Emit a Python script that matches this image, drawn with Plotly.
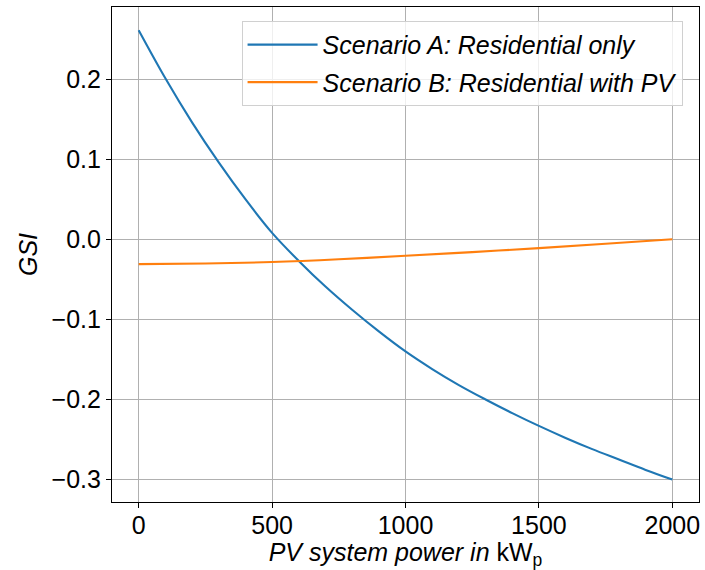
import plotly.graph_objects as go

# Data
x_a = [0, 100, 200, 300, 400, 500, 600, 700, 800, 900, 1000,
       1100, 1200, 1300, 1400, 1500, 1600, 1700, 1800, 1900, 2000]
gsi_a = [0.261, 0.201, 0.146, 0.096, 0.050, 0.008, -0.027, -0.059, -0.088, -0.115, -0.140,
         -0.162, -0.182, -0.200, -0.217, -0.233, -0.248, -0.262, -0.275, -0.288, -0.300]

x_b = [0, 250, 500, 750, 1000, 1250, 1500, 1750, 2000]
gsi_b = [-0.031, -0.0302, -0.0284, -0.025, -0.0205, -0.016, -0.011, -0.0055, 0.0]

name_a = "Scenario A: Residential only"
name_b = "Scenario B: Residential with PV"

x_ticks = [0, 500, 1000, 1500, 2000]
y_ticks = [-0.3, -0.2, -0.1, 0.0, 0.1, 0.2]
y_ticklabels = ["\u22120.3", "\u22120.2", "\u22120.1", "0.0", "0.1", "0.2"]

FONT = "Liberation Sans, Arial, sans-serif"
FS = 25

fig = go.Figure()
fig.add_trace(go.Scatter(x=x_a, y=gsi_a, mode="lines", name="<i>" + name_a + "</i>",
                         line=dict(color="#1f77b4", width=2.1, shape="spline", smoothing=1.0),
                         legendgroup="a"))
fig.add_trace(go.Scatter(x=x_b, y=gsi_b, mode="lines", name="<i>" + name_b + "</i>",
                         line=dict(color="#ff7f0e", width=2.1, shape="spline", smoothing=1.0),
                         legendgroup="b"))

fig.update_layout(
    width=705, height=570,
    margin=dict(l=112, r=6, t=7, b=68),
    paper_bgcolor="white", plot_bgcolor="white",
    font=dict(family=FONT, size=FS, color="black"),
    showlegend=True,
    legend=dict(
        x=0.972, y=0.972, xanchor="right", yanchor="top",
        bgcolor="rgba(255,255,255,0.8)", bordercolor="#d0d0d0", borderwidth=1,
        font=dict(family=FONT, size=FS, color="black"),
        tracegroupgap=2, traceorder="grouped", itemwidth=70,
    ),
)
fig.update_xaxes(
    range=[-100, 2100], tickvals=x_ticks, ticktext=[str(v) for v in x_ticks],
    showgrid=True, gridcolor="#b0b0b0", gridwidth=1,
    showline=True, linecolor="black", linewidth=1.1, mirror=True,
    ticks="outside", ticklen=5, tickwidth=1.1, tickcolor="black",
    ticklabelstandoff=-4,
    zeroline=False, automargin=False,
    title=dict(text="<i>PV system power in</i> kW<sub>p</sub>", font=dict(size=FS)),
)
fig.update_yaxes(
    range=[-0.328, 0.29], tickvals=y_ticks, ticktext=y_ticklabels,
    showgrid=True, gridcolor="#b0b0b0", gridwidth=1,
    showline=True, linecolor="black", linewidth=1.1, mirror=True,
    ticks="outside", ticklen=5, tickwidth=1.1, tickcolor="black",
    zeroline=False, automargin=True,
    title=dict(text="<i>GSI</i>", font=dict(size=FS), standoff=6),
)

fig.write_html("out.html")
